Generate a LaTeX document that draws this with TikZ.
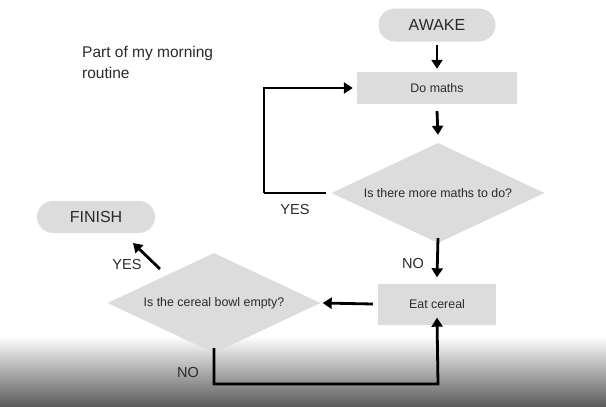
\documentclass[tikz,border=0pt]{standalone}
\usepackage{fontspec}
\setmainfont{Liberation Sans}
\usetikzlibrary{shapes.geometric,shapes.misc,arrows.meta}
\definecolor{boxgray}{HTML}{DCDCDC}
\definecolor{txtgray}{HTML}{2A2A2A}
\tikzset{
  pill/.style={rounded rectangle, fill=boxgray, minimum width=117pt, minimum height=33pt, inner sep=0pt, font=\fontsize{16}{17}\selectfont, text=txtgray},
  procbox/.style={rectangle, fill=boxgray, minimum height=32pt, inner sep=0pt, font=\fontsize{12.4}{13}\selectfont, text=txtgray},
  decision/.style={diamond, fill=boxgray, minimum width=213pt, minimum height=100pt, aspect=2.13, inner sep=0pt, font=\fontsize{12.4}{13}\selectfont, text=txtgray},
  flow/.style={line width=2.8pt, -{Triangle[length=9pt,width=11pt]}},
  plain/.style={line width=2.8pt},
  lbl/.style={font=\fontsize{14.5}{15}\selectfont, text=txtgray, inner sep=0pt}
}
\begin{document}
\begin{tikzpicture}[x=1pt,y=-1pt]
\useasboundingbox (0,0) rectangle (606,407);
\fill[white] (0,0) rectangle (606,407);
\shade[top color=white, bottom color=black!65] (0,336) rectangle (606,407);
% title
\node[lbl, anchor=west, align=left, font=\fontsize{15.5}{21}\selectfont] (title) at (82,62) {Part of my morning\\routine};
% nodes
\node[pill] (awake) at (437,25) {AWAKE};
\node[procbox, minimum width=160pt] (maths) at (437,88) {Do maths};
\node[decision] (more) at (438,193) {Is there more maths to do?};
\node[procbox, minimum width=118pt, minimum height=41pt] (eat) at (437,304) {Eat cereal};
\node[decision] (bowl) at (214,303) {Is the cereal bowl empty?};
\node[pill, minimum width=118pt, minimum height=32pt] (finish) at (96,217) {FINISH};
% connectors
\draw[flow] ([yshift=-3pt]awake.south) -- ([yshift=3pt]maths.north);
\draw[flow] ([yshift=-7pt]maths.south) -- ([yshift=8pt]more.north);
\coordinate (yl1) at (264,193);
\coordinate (yl2) at (264,88);
\draw[plain] ([xshift=-5pt]more.west) -- (yl1);
\draw[flow] (yl1) -- (yl2) -- ([xshift=-4pt]maths.west);
\node[lbl] (yes1) at (295,210) {YES};
\draw[flow] ([yshift=5pt]more.south) -- ([yshift=6pt]eat.north);
\node[lbl] (no1) at (413,264) {NO};
\draw[flow] ([xshift=-5pt]eat.west) -- ([xshift=2pt]bowl.east);
\coordinate (ya) at (160,269);
\coordinate (yb) at (133,243);
\draw[flow] (ya) -- (yb);
\node[lbl] (yes2) at (127,265) {YES};
\coordinate (n1) at (214,384);
\coordinate (n2) at (438,384);
\draw[flow] ([yshift=5pt]bowl.south) -- (n1) -- (n2) -- ([yshift=7pt]eat.south);
\node[lbl] (no2) at (188,373) {NO};
\end{tikzpicture}
\end{document}
